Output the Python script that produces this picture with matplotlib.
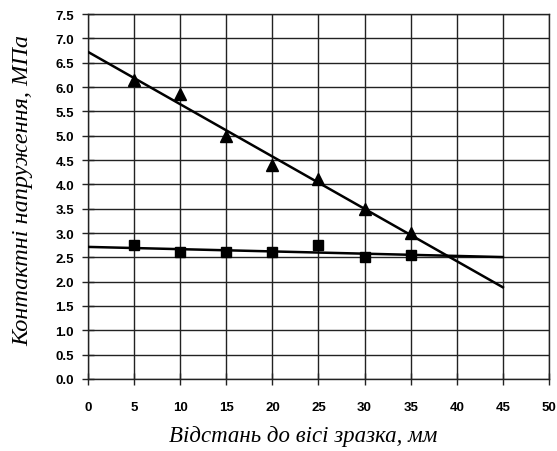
import numpy as np
import matplotlib
matplotlib.use("Agg")
import matplotlib.pyplot as plt

x = [5, 10, 15, 20, 25, 30, 35]
triangles = [6.15, 5.85, 5.0, 4.4, 4.1, 3.5, 3.0]
squares = [2.75, 2.6, 2.6, 2.6, 2.75, 2.5, 2.55]
trend_x = [0, 45]
xticks = [0, 5, 10, 15, 20, 25, 30, 35, 40, 45, 50]
yticks = [0.0, 0.5, 1.0, 1.5, 2.0, 2.5, 3.0, 3.5, 4.0, 4.5, 5.0, 5.5, 6.0, 6.5, 7.0, 7.5]
xlabel = "Відстань до вісі зразка, мм"
ylabel = "Контактні напруження, МПа"

fig = plt.figure(figsize=(5.57, 4.52), dpi=100)
ax = fig.add_axes([0.158, 0.1593, 0.8276, 0.8075])

for ys, mk, ms in [(triangles, "^", 8), (squares, "s", 7)]:
    k, b = np.polyfit(x, ys, 1)
    tx = np.array(trend_x, dtype=float)
    ax.plot(tx, k * tx + b, color="black", lw=1.8, zorder=3)
    ax.plot(x, ys, linestyle="none", marker=mk, ms=ms, color="black", zorder=4)

ax.set_xlim(0, 50)
ax.set_ylim(0, 7.5)
ax.set_xticks(xticks)
ax.set_yticks(yticks)
ax.set_xticklabels([str(v) for v in xticks])
ax.set_yticklabels([f"{v:.1f}" for v in yticks])
ax.grid(True, color="#222222", lw=1.0)
ax.set_axisbelow(True)
for s in ax.spines.values():
    s.set_color("#222222")
    s.set_linewidth(1.0)
ax.tick_params(direction="inout", length=8, width=1, color="#222222")
for lab in ax.get_xticklabels() + ax.get_yticklabels():
    lab.set_fontfamily("Liberation Sans")
    lab.set_fontweight("bold")
    lab.set_fontsize(9.5)
ax.tick_params(axis="x", pad=12)
ax.tick_params(axis="y", pad=6)
ax.set_xlabel(xlabel, fontfamily="Liberation Serif", fontstyle="italic", fontsize=16.5)
ax.set_ylabel(ylabel, fontfamily="Liberation Serif", fontstyle="italic", fontsize=17.5)
ax.xaxis.set_label_coords(0.466, -0.125)
ax.yaxis.set_label_coords(-0.118, 0.52)

fig.savefig("out.png", dpi=100)
